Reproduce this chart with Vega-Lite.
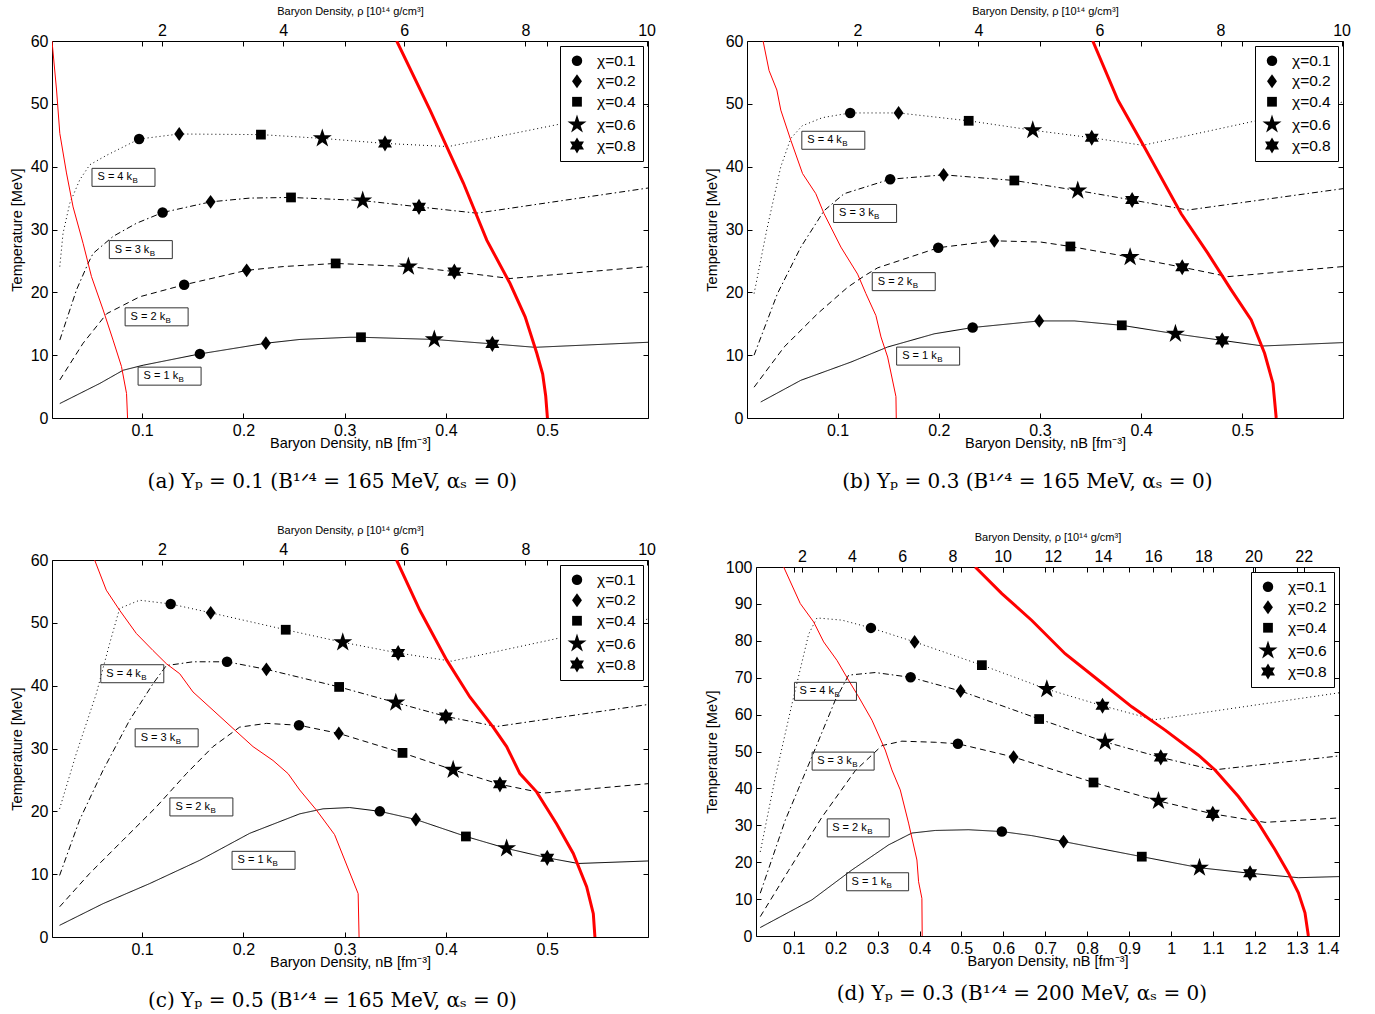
{
  "$schema": "https://vega.github.io/schema/vega-lite/v6.json",
  "padding": {"left": 8, "top": 4, "right": 0, "bottom": 0},
  "background": "white",
  "datasets": {
    "curves": [
      {"p":"a","s":"S1","n":0.0187,"T":2.3},{"p":"a","s":"S1","n":0.0582,"T":5.5},{"p":"a","s":"S1","n":0.0812,"T":7.6},{"p":"a","s":"S1","n":0.101,"T":8.4},{"p":"a","s":"S1","n":0.157,"T":10.2},{"p":"a","s":"S1","n":0.2222,"T":11.9},{"p":"a","s":"S1","n":0.2558,"T":12.5},{"p":"a","s":"S1","n":0.3052,"T":12.85},{"p":"a","s":"S1","n":0.3161,"T":12.85},{"p":"a","s":"S1","n":0.3885,"T":12.5},{"p":"a","s":"S1","n":0.4458,"T":11.8},{"p":"a","s":"S1","n":0.488,"T":11.25},{"p":"a","s":"S1","n":0.5995,"T":12.05},
      {"p":"a","s":"S2","n":0.0187,"T":6.05},{"p":"a","s":"S2","n":0.0417,"T":11.9},{"p":"a","s":"S2","n":0.065,"T":16.6},{"p":"a","s":"S2","n":0.0977,"T":19.3},{"p":"a","s":"S2","n":0.1415,"T":21.2},{"p":"a","s":"S2","n":0.2032,"T":23.5},{"p":"a","s":"S2","n":0.2393,"T":24.1},{"p":"a","s":"S2","n":0.2911,"T":24.6},{"p":"a","s":"S2","n":0.3629,"T":24.1},{"p":"a","s":"S2","n":0.4083,"T":23.3},{"p":"a","s":"S2","n":0.4633,"T":22.2},{"p":"a","s":"S2","n":0.5995,"T":24.1},
      {"p":"a","s":"S3","n":0.0187,"T":12.4},{"p":"a","s":"S3","n":0.0352,"T":20.4},{"p":"a","s":"S3","n":0.0466,"T":24.6},{"p":"a","s":"S3","n":0.0516,"T":26.2},{"p":"a","s":"S3","n":0.0713,"T":28.9},{"p":"a","s":"S3","n":0.0945,"T":31},{"p":"a","s":"S3","n":0.1202,"T":32.7},{"p":"a","s":"S3","n":0.1676,"T":34.4},{"p":"a","s":"S3","n":0.2064,"T":35},{"p":"a","s":"S3","n":0.247,"T":35.1},{"p":"a","s":"S3","n":0.305,"T":34.7},{"p":"a","s":"S3","n":0.3178,"T":34.6},{"p":"a","s":"S3","n":0.3734,"T":33.6},{"p":"a","s":"S3","n":0.4304,"T":32.6},{"p":"a","s":"S3","n":0.5995,"T":36.6},
      {"p":"a","s":"S4","n":0.0187,"T":24.1},{"p":"a","s":"S4","n":0.0219,"T":29.4},{"p":"a","s":"S4","n":0.0286,"T":34.2},{"p":"a","s":"S4","n":0.0384,"T":37.9},{"p":"a","s":"S4","n":0.0483,"T":40.3},{"p":"a","s":"S4","n":0.0648,"T":41.8},{"p":"a","s":"S4","n":0.097,"T":44.4},{"p":"a","s":"S4","n":0.1366,"T":45.2},{"p":"a","s":"S4","n":0.2173,"T":45.1},{"p":"a","s":"S4","n":0.2779,"T":44.5},{"p":"a","s":"S4","n":0.3398,"T":43.7},{"p":"a","s":"S4","n":0.4024,"T":43.2},{"p":"a","s":"S4","n":0.5995,"T":49.6},
      {"p":"a","s":"thin","n":0.011,"T":60},{"p":"a","s":"thin","n":0.0155,"T":52.2},{"p":"a","s":"thin","n":0.0187,"T":45.3},{"p":"a","s":"thin","n":0.0253,"T":39},{"p":"a","s":"thin","n":0.0318,"T":33.6},{"p":"a","s":"thin","n":0.0417,"T":27.8},{"p":"a","s":"thin","n":0.05,"T":22.5},{"p":"a","s":"thin","n":0.0615,"T":17.2},{"p":"a","s":"thin","n":0.0713,"T":12.4},{"p":"a","s":"thin","n":0.0796,"T":8.2},{"p":"a","s":"thin","n":0.0846,"T":3.9},{"p":"a","s":"thin","n":0.0856,"T":0},
      {"p":"a","s":"thick","n":0.3514,"T":60},{"p":"a","s":"thick","n":0.3843,"T":49},{"p":"a","s":"thick","n":0.4172,"T":37.4},{"p":"a","s":"thick","n":0.4403,"T":28.3},{"p":"a","s":"thick","n":0.4633,"T":21.4},{"p":"a","s":"thick","n":0.4782,"T":16.1},{"p":"a","s":"thick","n":0.4897,"T":10.3},{"p":"a","s":"thick","n":0.4955,"T":7},{"p":"a","s":"thick","n":0.4985,"T":3.5},{"p":"a","s":"thick","n":0.5002,"T":0},

      {"p":"b","s":"S1","n":0.0241,"T":2.55},{"p":"b","s":"S1","n":0.0637,"T":6},{"p":"b","s":"S1","n":0.1132,"T":8.9},{"p":"b","s":"S1","n":0.1495,"T":11.3},{"p":"b","s":"S1","n":0.1956,"T":13.4},{"p":"b","s":"S1","n":0.2335,"T":14.4},{"p":"b","s":"S1","n":0.2993,"T":15.45},{"p":"b","s":"S1","n":0.334,"T":15.45},{"p":"b","s":"S1","n":0.3809,"T":14.75},{"p":"b","s":"S1","n":0.4339,"T":13.4},{"p":"b","s":"S1","n":0.4801,"T":12.35},{"p":"b","s":"S1","n":0.5204,"T":11.46},{"p":"b","s":"S1","n":0.5995,"T":12},
      {"p":"b","s":"S2","n":0.0175,"T":4.9},{"p":"b","s":"S2","n":0.0472,"T":11.3},{"p":"b","s":"S2","n":0.0802,"T":16.6},{"p":"b","s":"S2","n":0.1099,"T":20.8},{"p":"b","s":"S2","n":0.1263,"T":22.6},{"p":"b","s":"S2","n":0.1396,"T":23.9},{"p":"b","s":"S2","n":0.1995,"T":27.1},{"p":"b","s":"S2","n":0.2549,"T":28.2},{"p":"b","s":"S2","n":0.301,"T":28},{"p":"b","s":"S2","n":0.3301,"T":27.3},{"p":"b","s":"S2","n":0.3891,"T":25.6},{"p":"b","s":"S2","n":0.4406,"T":24},{"p":"b","s":"S2","n":0.4858,"T":22.5},{"p":"b","s":"S2","n":0.5995,"T":24.1},
      {"p":"b","s":"S3","n":0.0175,"T":10},{"p":"b","s":"S3","n":0.0406,"T":19.8},{"p":"b","s":"S3","n":0.0637,"T":27.2},{"p":"b","s":"S3","n":0.0867,"T":33},{"p":"b","s":"S3","n":0.1065,"T":35.7},{"p":"b","s":"S3","n":0.152,"T":38},{"p":"b","s":"S3","n":0.2048,"T":38.7},{"p":"b","s":"S3","n":0.2747,"T":37.8},{"p":"b","s":"S3","n":0.3374,"T":36.2},{"p":"b","s":"S3","n":0.3911,"T":34.7},{"p":"b","s":"S3","n":0.4462,"T":33.1},{"p":"b","s":"S3","n":0.5995,"T":36.5},
      {"p":"b","s":"S4","n":0.0175,"T":19.8},{"p":"b","s":"S4","n":0.0301,"T":30},{"p":"b","s":"S4","n":0.0439,"T":40},{"p":"b","s":"S4","n":0.0538,"T":44.5},{"p":"b","s":"S4","n":0.065,"T":46.5},{"p":"b","s":"S4","n":0.085,"T":47.8},{"p":"b","s":"S4","n":0.1125,"T":48.55},{"p":"b","s":"S4","n":0.1603,"T":48.55},{"p":"b","s":"S4","n":0.2296,"T":47.3},{"p":"b","s":"S4","n":0.2929,"T":45.8},{"p":"b","s":"S4","n":0.3512,"T":44.6},{"p":"b","s":"S4","n":0.4017,"T":43.4},{"p":"b","s":"S4","n":0.5995,"T":50.3},
      {"p":"b","s":"thin","n":0.0264,"T":60},{"p":"b","s":"thin","n":0.0323,"T":55.3},{"p":"b","s":"thin","n":0.04,"T":52.2},{"p":"b","s":"thin","n":0.0439,"T":49},{"p":"b","s":"thin","n":0.0538,"T":44.2},{"p":"b","s":"thin","n":0.0654,"T":38.9},{"p":"b","s":"thin","n":0.0785,"T":35.7},{"p":"b","s":"thin","n":0.0867,"T":32.5},{"p":"b","s":"thin","n":0.1033,"T":27.2},{"p":"b","s":"thin","n":0.1198,"T":22.9},{"p":"b","s":"thin","n":0.128,"T":19.8},{"p":"b","s":"thin","n":0.1379,"T":16.3},{"p":"b","s":"thin","n":0.1429,"T":12.9},{"p":"b","s":"thin","n":0.1495,"T":9.7},{"p":"b","s":"thin","n":0.1577,"T":3.4},{"p":"b","s":"thin","n":0.158,"T":0},
      {"p":"b","s":"thick","n":0.3522,"T":60},{"p":"b","s":"thick","n":0.377,"T":50.6},{"p":"b","s":"thick","n":0.4033,"T":43.1},{"p":"b","s":"thick","n":0.4396,"T":32.5},{"p":"b","s":"thick","n":0.466,"T":26.2},{"p":"b","s":"thick","n":0.489,"T":20.4},{"p":"b","s":"thick","n":0.5088,"T":15.6},{"p":"b","s":"thick","n":0.522,"T":10.3},{"p":"b","s":"thick","n":0.5303,"T":5.5},{"p":"b","s":"thick","n":0.5335,"T":0},

      {"p":"c","s":"S1","n":0.0185,"T":1.86},{"p":"c","s":"S1","n":0.0613,"T":5.3},{"p":"c","s":"S1","n":0.1074,"T":8.5},{"p":"c","s":"S1","n":0.1568,"T":12.2},{"p":"c","s":"S1","n":0.2062,"T":16.5},{"p":"c","s":"S1","n":0.2556,"T":19.6},{"p":"c","s":"S1","n":0.2787,"T":20.4},{"p":"c","s":"S1","n":0.305,"T":20.6},{"p":"c","s":"S1","n":0.3347,"T":20},{"p":"c","s":"S1","n":0.3703,"T":18.7},{"p":"c","s":"S1","n":0.4197,"T":16},{"p":"c","s":"S1","n":0.4599,"T":14.1},{"p":"c","s":"S1","n":0.5,"T":12.6},{"p":"c","s":"S1","n":0.5306,"T":11.7},{"p":"c","s":"S1","n":0.5995,"T":12.1},
      {"p":"c","s":"S2","n":0.0185,"T":4.8},{"p":"c","s":"S2","n":0.0481,"T":10.1},{"p":"c","s":"S2","n":0.081,"T":15.4},{"p":"c","s":"S2","n":0.114,"T":20.7},{"p":"c","s":"S2","n":0.1437,"T":26},{"p":"c","s":"S2","n":0.17,"T":30.3},{"p":"c","s":"S2","n":0.1963,"T":33.4},{"p":"c","s":"S2","n":0.2227,"T":34},{"p":"c","s":"S2","n":0.2549,"T":33.7},{"p":"c","s":"S2","n":0.2942,"T":32.4},{"p":"c","s":"S2","n":0.3571,"T":29.3},{"p":"c","s":"S2","n":0.4071,"T":26.6},{"p":"c","s":"S2","n":0.4533,"T":24.3},{"p":"c","s":"S2","n":0.496,"T":22.9},{"p":"c","s":"S2","n":0.5995,"T":24.4},
      {"p":"c","s":"S3","n":0.0185,"T":9.8},{"p":"c","s":"S3","n":0.0382,"T":18.6},{"p":"c","s":"S3","n":0.0613,"T":26.5},{"p":"c","s":"S3","n":0.0876,"T":34.5},{"p":"c","s":"S3","n":0.1107,"T":40.3},{"p":"c","s":"S3","n":0.1239,"T":43.2},{"p":"c","s":"S3","n":0.1502,"T":43.8},{"p":"c","s":"S3","n":0.1838,"T":43.8},{"p":"c","s":"S3","n":0.2227,"T":42.6},{"p":"c","s":"S3","n":0.2945,"T":39.8},{"p":"c","s":"S3","n":0.3505,"T":37.3},{"p":"c","s":"S3","n":0.3999,"T":35.1},{"p":"c","s":"S3","n":0.45,"T":33.5},{"p":"c","s":"S3","n":0.5995,"T":37},
      {"p":"c","s":"S4","n":0.0185,"T":20.4},{"p":"c","s":"S4","n":0.035,"T":29.2},{"p":"c","s":"S4","n":0.0547,"T":38.7},{"p":"c","s":"S4","n":0.0679,"T":46.7},{"p":"c","s":"S4","n":0.0778,"T":52.3},{"p":"c","s":"S4","n":0.0975,"T":53.6},{"p":"c","s":"S4","n":0.1282,"T":53},{"p":"c","s":"S4","n":0.1677,"T":51.6},{"p":"c","s":"S4","n":0.2418,"T":48.9},{"p":"c","s":"S4","n":0.2981,"T":46.9},{"p":"c","s":"S4","n":0.3528,"T":45.2},{"p":"c","s":"S4","n":0.4055,"T":43.9},{"p":"c","s":"S4","n":0.5995,"T":50.6},
      {"p":"c","s":"thin","n":0.0531,"T":60},{"p":"c","s":"thin","n":0.0646,"T":55.2},{"p":"c","s":"thin","n":0.0778,"T":52},{"p":"c","s":"thin","n":0.0943,"T":48.3},{"p":"c","s":"thin","n":0.1107,"T":45.6},{"p":"c","s":"thin","n":0.1239,"T":43.5},{"p":"c","s":"thin","n":0.1371,"T":41.9},{"p":"c","s":"thin","n":0.1502,"T":39},{"p":"c","s":"thin","n":0.17,"T":36.1},{"p":"c","s":"thin","n":0.1897,"T":33.2},{"p":"c","s":"thin","n":0.2095,"T":30.3},{"p":"c","s":"thin","n":0.2292,"T":28.1},{"p":"c","s":"thin","n":0.2441,"T":26},{"p":"c","s":"thin","n":0.2556,"T":23.4},{"p":"c","s":"thin","n":0.2721,"T":20.2},{"p":"c","s":"thin","n":0.29,"T":16.3},{"p":"c","s":"thin","n":0.3133,"T":6.9},{"p":"c","s":"thin","n":0.3142,"T":0},
      {"p":"c","s":"thick","n":0.3512,"T":60},{"p":"c","s":"thick","n":0.3742,"T":52},{"p":"c","s":"thick","n":0.4006,"T":44.1},{"p":"c","s":"thick","n":0.4236,"T":38.2},{"p":"c","s":"thick","n":0.4466,"T":33.4},{"p":"c","s":"thick","n":0.4599,"T":30.3},{"p":"c","s":"thick","n":0.473,"T":26},{"p":"c","s":"thick","n":0.4895,"T":23.1},{"p":"c","s":"thick","n":0.5093,"T":18},{"p":"c","s":"thick","n":0.5257,"T":13.3},{"p":"c","s":"thick","n":0.5389,"T":8},{"p":"c","s":"thick","n":0.5455,"T":3.7},{"p":"c","s":"thick","n":0.5471,"T":0},

      {"p":"d","s":"S1","n":0.0204,"T":2.3},{"p":"d","s":"S1","n":0.1436,"T":9.8},{"p":"d","s":"S1","n":0.2389,"T":17.9},{"p":"d","s":"S1","n":0.3264,"T":24.7},{"p":"d","s":"S1","n":0.3819,"T":27.9},{"p":"d","s":"S1","n":0.4374,"T":28.6},{"p":"d","s":"S1","n":0.517,"T":28.8},{"p":"d","s":"S1","n":0.5963,"T":28.3},{"p":"d","s":"S1","n":0.6678,"T":27.2},{"p":"d","s":"S1","n":0.7433,"T":25.6},{"p":"d","s":"S1","n":0.9299,"T":21.5},{"p":"d","s":"S1","n":1.0674,"T":18.5},{"p":"d","s":"S1","n":1.188,"T":17},{"p":"d","s":"S1","n":1.3032,"T":15.8},{"p":"d","s":"S1","n":1.4,"T":16.1},
      {"p":"d","s":"S2","n":0.0204,"T":5.25},{"p":"d","s":"S2","n":0.0881,"T":17.8},{"p":"d","s":"S2","n":0.1674,"T":32.2},{"p":"d","s":"S2","n":0.2468,"T":44.8},{"p":"d","s":"S2","n":0.3104,"T":51.6},{"p":"d","s":"S2","n":0.358,"T":52.8},{"p":"d","s":"S2","n":0.4374,"T":52.5},{"p":"d","s":"S2","n":0.4915,"T":52.1},{"p":"d","s":"S2","n":0.6242,"T":48.5},{"p":"d","s":"S2","n":0.8148,"T":41.6},{"p":"d","s":"S2","n":0.9697,"T":36.6},{"p":"d","s":"S2","n":1.0991,"T":33.1},{"p":"d","s":"S2","n":1.2237,"T":30.8},{"p":"d","s":"S2","n":1.4,"T":32},
      {"p":"d","s":"S3","n":0.0204,"T":11.6},{"p":"d","s":"S3","n":0.08,"T":31.4},{"p":"d","s":"S3","n":0.1436,"T":48.6},{"p":"d","s":"S3","n":0.1991,"T":63.9},{"p":"d","s":"S3","n":0.231,"T":70.7},{"p":"d","s":"S3","n":0.2944,"T":71.4},{"p":"d","s":"S3","n":0.3788,"T":70.1},{"p":"d","s":"S3","n":0.4979,"T":66.4},{"p":"d","s":"S3","n":0.6852,"T":58.8},{"p":"d","s":"S3","n":0.8424,"T":52.6},{"p":"d","s":"S3","n":0.9751,"T":48.4},{"p":"d","s":"S3","n":1.1007,"T":45},{"p":"d","s":"S3","n":1.4,"T":48.8},
      {"p":"d","s":"S4","n":0.0204,"T":22.8},{"p":"d","s":"S4","n":0.0562,"T":43},{"p":"d","s":"S4","n":0.096,"T":62.9},{"p":"d","s":"S4","n":0.1357,"T":81.8},{"p":"d","s":"S4","n":0.1555,"T":86.2},{"p":"d","s":"S4","n":0.2151,"T":85.6},{"p":"d","s":"S4","n":0.2842,"T":83.5},{"p":"d","s":"S4","n":0.3883,"T":79.7},{"p":"d","s":"S4","n":0.5487,"T":73.4},{"p":"d","s":"S4","n":0.7035,"T":66.9},{"p":"d","s":"S4","n":0.8362,"T":62.4},{"p":"d","s":"S4","n":0.96,"T":58.6},{"p":"d","s":"S4","n":1.4,"T":65.9},
      {"p":"d","s":"thin","n":0.0762,"T":100},{"p":"d","s":"thin","n":0.1157,"T":90.1},{"p":"d","s":"thin","n":0.1477,"T":85.1},{"p":"d","s":"thin","n":0.1715,"T":79.7},{"p":"d","s":"thin","n":0.2032,"T":74.7},{"p":"d","s":"thin","n":0.231,"T":69.3},{"p":"d","s":"thin","n":0.2549,"T":64.8},{"p":"d","s":"thin","n":0.2866,"T":58.5},{"p":"d","s":"thin","n":0.3183,"T":50.4},{"p":"d","s":"thin","n":0.3342,"T":45},{"p":"d","s":"thin","n":0.3541,"T":39.6},{"p":"d","s":"thin","n":0.3739,"T":30.6},{"p":"d","s":"thin","n":0.3938,"T":20.6},{"p":"d","s":"thin","n":0.3978,"T":14.7},{"p":"d","s":"thin","n":0.4057,"T":10.2},{"p":"d","s":"thin","n":0.4064,"T":0},
      {"p":"d","s":"thick","n":0.5327,"T":100},{"p":"d","s":"thick","n":0.5963,"T":92.8},{"p":"d","s":"thick","n":0.6678,"T":85.5},{"p":"d","s":"thick","n":0.7471,"T":76.5},{"p":"d","s":"thick","n":0.8267,"T":69.3},{"p":"d","s":"thick","n":0.9061,"T":62.1},{"p":"d","s":"thick","n":0.9855,"T":55.8},{"p":"d","s":"thick","n":1.065,"T":49},{"p":"d","s":"thick","n":1.1045,"T":45},{"p":"d","s":"thick","n":1.1602,"T":37.8},{"p":"d","s":"thick","n":1.2079,"T":30.6},{"p":"d","s":"thick","n":1.2475,"T":23.4},{"p":"d","s":"thick","n":1.2794,"T":17.1},{"p":"d","s":"thick","n":1.3032,"T":11.7},{"p":"d","s":"thick","n":1.3189,"T":6.3},{"p":"d","s":"thick","n":1.327,"T":0}
    ],
    "markers": [
      {"p":"a","chi":"χ=0.1","n":0.097,"T":44.4},{"p":"a","chi":"χ=0.2","n":0.1366,"T":45.2},{"p":"a","chi":"χ=0.4","n":0.2173,"T":45.1},{"p":"a","chi":"χ=0.6","n":0.2779,"T":44.5},{"p":"a","chi":"χ=0.8","n":0.3398,"T":43.7},
      {"p":"a","chi":"χ=0.1","n":0.1202,"T":32.7},{"p":"a","chi":"χ=0.2","n":0.1676,"T":34.4},{"p":"a","chi":"χ=0.4","n":0.247,"T":35.1},{"p":"a","chi":"χ=0.6","n":0.3178,"T":34.6},{"p":"a","chi":"χ=0.8","n":0.3734,"T":33.6},
      {"p":"a","chi":"χ=0.1","n":0.1415,"T":21.2},{"p":"a","chi":"χ=0.2","n":0.2032,"T":23.5},{"p":"a","chi":"χ=0.4","n":0.2911,"T":24.6},{"p":"a","chi":"χ=0.6","n":0.3629,"T":24.1},{"p":"a","chi":"χ=0.8","n":0.4083,"T":23.3},
      {"p":"a","chi":"χ=0.1","n":0.157,"T":10.2},{"p":"a","chi":"χ=0.2","n":0.2222,"T":11.9},{"p":"a","chi":"χ=0.4","n":0.3161,"T":12.85},{"p":"a","chi":"χ=0.6","n":0.3885,"T":12.5},{"p":"a","chi":"χ=0.8","n":0.4458,"T":11.8},
      {"p":"b","chi":"χ=0.1","n":0.1125,"T":48.55},{"p":"b","chi":"χ=0.2","n":0.1603,"T":48.55},{"p":"b","chi":"χ=0.4","n":0.2296,"T":47.3},{"p":"b","chi":"χ=0.6","n":0.2929,"T":45.8},{"p":"b","chi":"χ=0.8","n":0.3512,"T":44.6},
      {"p":"b","chi":"χ=0.1","n":0.152,"T":38},{"p":"b","chi":"χ=0.2","n":0.2048,"T":38.7},{"p":"b","chi":"χ=0.4","n":0.2747,"T":37.8},{"p":"b","chi":"χ=0.6","n":0.3374,"T":36.2},{"p":"b","chi":"χ=0.8","n":0.3911,"T":34.7},
      {"p":"b","chi":"χ=0.1","n":0.1995,"T":27.1},{"p":"b","chi":"χ=0.2","n":0.2549,"T":28.2},{"p":"b","chi":"χ=0.4","n":0.3301,"T":27.3},{"p":"b","chi":"χ=0.6","n":0.3891,"T":25.6},{"p":"b","chi":"χ=0.8","n":0.4406,"T":24},
      {"p":"b","chi":"χ=0.1","n":0.2335,"T":14.4},{"p":"b","chi":"χ=0.2","n":0.2993,"T":15.45},{"p":"b","chi":"χ=0.4","n":0.3809,"T":14.75},{"p":"b","chi":"χ=0.6","n":0.4339,"T":13.4},{"p":"b","chi":"χ=0.8","n":0.4801,"T":12.35},
      {"p":"c","chi":"χ=0.1","n":0.1282,"T":53},{"p":"c","chi":"χ=0.2","n":0.1677,"T":51.6},{"p":"c","chi":"χ=0.4","n":0.2418,"T":48.9},{"p":"c","chi":"χ=0.6","n":0.2981,"T":46.9},{"p":"c","chi":"χ=0.8","n":0.3528,"T":45.2},
      {"p":"c","chi":"χ=0.1","n":0.1838,"T":43.8},{"p":"c","chi":"χ=0.2","n":0.2227,"T":42.6},{"p":"c","chi":"χ=0.4","n":0.2945,"T":39.8},{"p":"c","chi":"χ=0.6","n":0.3505,"T":37.3},{"p":"c","chi":"χ=0.8","n":0.3999,"T":35.1},
      {"p":"c","chi":"χ=0.1","n":0.2549,"T":33.7},{"p":"c","chi":"χ=0.2","n":0.2942,"T":32.4},{"p":"c","chi":"χ=0.4","n":0.3571,"T":29.3},{"p":"c","chi":"χ=0.6","n":0.4071,"T":26.6},{"p":"c","chi":"χ=0.8","n":0.4533,"T":24.3},
      {"p":"c","chi":"χ=0.1","n":0.3347,"T":20},{"p":"c","chi":"χ=0.2","n":0.3703,"T":18.7},{"p":"c","chi":"χ=0.4","n":0.4197,"T":16},{"p":"c","chi":"χ=0.6","n":0.4599,"T":14.1},{"p":"c","chi":"χ=0.8","n":0.5,"T":12.6},
      {"p":"d","chi":"χ=0.1","n":0.2842,"T":83.5},{"p":"d","chi":"χ=0.2","n":0.3883,"T":79.7},{"p":"d","chi":"χ=0.4","n":0.5487,"T":73.4},{"p":"d","chi":"χ=0.6","n":0.7035,"T":66.9},{"p":"d","chi":"χ=0.8","n":0.8362,"T":62.4},
      {"p":"d","chi":"χ=0.1","n":0.3788,"T":70.1},{"p":"d","chi":"χ=0.2","n":0.4979,"T":66.4},{"p":"d","chi":"χ=0.4","n":0.6852,"T":58.8},{"p":"d","chi":"χ=0.6","n":0.8424,"T":52.6},{"p":"d","chi":"χ=0.8","n":0.9751,"T":48.4},
      {"p":"d","chi":"χ=0.1","n":0.4915,"T":52.1},{"p":"d","chi":"χ=0.2","n":0.6242,"T":48.5},{"p":"d","chi":"χ=0.4","n":0.8148,"T":41.6},{"p":"d","chi":"χ=0.6","n":0.9697,"T":36.6},{"p":"d","chi":"χ=0.8","n":1.0991,"T":33.1},
      {"p":"d","chi":"χ=0.1","n":0.5963,"T":28.3},{"p":"d","chi":"χ=0.2","n":0.7433,"T":25.6},{"p":"d","chi":"χ=0.4","n":0.9299,"T":21.5},{"p":"d","chi":"χ=0.6","n":1.0674,"T":18.5},{"p":"d","chi":"χ=0.8","n":1.188,"T":17}
    ],
    "labels": [
      {"p":"a","k":"S = 4 k","n":0.0816,"T":38.3},{"p":"a","k":"S = 3 k","n":0.0987,"T":26.8},{"p":"a","k":"S = 2 k","n":0.1143,"T":16.1},{"p":"a","k":"S = 1 k","n":0.1271,"T":6.66},
      {"p":"b","k":"S = 4 k","n":0.0958,"T":44.2},{"p":"b","k":"S = 3 k","n":0.1272,"T":32.55},{"p":"b","k":"S = 2 k","n":0.1654,"T":21.7},{"p":"b","k":"S = 1 k","n":0.1895,"T":9.85},
      {"p":"c","k":"S = 4 k","n":0.0903,"T":41.9},{"p":"c","k":"S = 3 k","n":0.1242,"T":31.7},{"p":"c","k":"S = 2 k","n":0.1585,"T":20.7},{"p":"c","k":"S = 1 k","n":0.2199,"T":12.2},
      {"p":"d","k":"S = 4 k","n":0.1758,"T":66.3},{"p":"d","k":"S = 3 k","n":0.2179,"T":47.4},{"p":"d","k":"S = 2 k","n":0.2539,"T":29.3},{"p":"d","k":"S = 1 k","n":0.3001,"T":14.7}
    ]
  },
  "resolve": {"scale": {"shape": "independent", "size": "independent", "strokeDash": "independent"}, "legend": {"shape": "independent", "size": "independent"}},
  "spacing": 31,
  "vconcat": [
    {
      "spacing": 47,
      "resolve": {"scale": {"shape": "independent", "size": "independent", "strokeDash": "independent"}, "legend": {"shape": "independent", "size": "independent"}},
      "hconcat": [
        {
          "width": 596, "height": 377,
          "title": {"text": "(a) Yₚ = 0.1 (B¹ᐟ⁴ = 165 MeV, αₛ = 0)"},
          "resolve": {"axis": {"x": "independent", "y": "independent"}},
          "layer": [
            {
              "data": {"name": "curves"},
              "transform": [{"filter": "datum.p == 'a' && indexof(['S1','S2','S3','S4'], datum.s) >= 0"}],
              "mark": {"type": "line", "color": "black", "strokeWidth": 1, "clip": true},
              "encoding": {
                "x": {"field": "n", "type": "quantitative", "scale": {"domain": [0.011, 0.5995], "nice": false, "zero": false},
                      "axis": {"orient": "bottom", "values": [0.1, 0.2, 0.3, 0.4, 0.5], "format": "~g", "title": "Baryon Density, nB [fm⁻³]"}},
                "y": {"field": "T", "type": "quantitative", "scale": {"domain": [0, 60], "nice": false, "zero": false},
                      "axis": {"orient": "left", "values": [0, 10, 20, 30, 40, 50, 60], "format": "d", "title": "Temperature [MeV]"}},
                "detail": {"field": "s"},
                "strokeDash": {"field": "s", "type": "nominal", "legend": null,
                               "scale": {"domain": ["S1", "S2", "S3", "S4"], "range": [[1, 0], [6, 4], [6, 3, 1.5, 3], [1, 3]]}}
              }
            },
            {
              "data": {"name": "curves"},
              "transform": [{"filter": "datum.p == 'a' && datum.s == 'thin'"}],
              "mark": {"type": "line", "color": "#ff0000", "strokeWidth": 1, "clip": true},
              "encoding": {
                "x": {"field": "n", "type": "quantitative",
                      "axis": {"orient": "top", "values": [0.1, 0.119617, 0.2, 0.239234, 0.3, 0.358852, 0.4, 0.478469, 0.5, 0.598086],
                               "labelExpr": "abs(datum.value*16.72 - round(datum.value*16.72)) < 0.001 ? format(round(datum.value*16.72), 'd') : ''",
                               "title": "Baryon Density, ρ [10¹⁴ g/cm³]"}},
                "y": {"field": "T", "type": "quantitative",
                      "axis": {"orient": "right", "values": [0, 10, 20, 30, 40, 50, 60], "labels": false, "title": null}}
              }
            },
            {
              "data": {"name": "curves"},
              "transform": [{"filter": "datum.p == 'a' && datum.s == 'thick'"}],
              "mark": {"type": "line", "color": "#ff0000", "strokeWidth": 3, "clip": true},
              "encoding": {
                "x": {"field": "n", "type": "quantitative", "axis": null},
                "y": {"field": "T", "type": "quantitative", "axis": null}
              }
            },
            {
              "data": {"name": "markers"},
              "transform": [{"filter": "datum.p == 'a'"}],
              "mark": {"type": "point", "filled": true, "color": "black", "opacity": 1, "strokeWidth": 0},
              "encoding": {
                "x": {"field": "n", "type": "quantitative", "axis": null},
                "y": {"field": "T", "type": "quantitative", "axis": null},
                "shape": {"field": "chi", "type": "nominal", "legend": {"title": null},
                          "scale": {"domain": ["χ=0.1", "χ=0.2", "χ=0.4", "χ=0.6", "χ=0.8"],
                                    "range": ["circle", "M0,-1L0.72,0L0,1L-0.72,0Z", "square",
                                              "M0,-1L0.225,-0.309L0.951,-0.309L0.363,0.118L0.588,0.809L0,0.382L-0.588,0.809L-0.363,0.118L-0.951,-0.309L-0.225,-0.309Z",
                                              "M0,-1L0.289,-0.5L0.866,-0.5L0.577,0L0.866,0.5L0.289,0.5L0,1L-0.289,0.5L-0.866,0.5L-0.577,0L-0.866,-0.5L-0.289,-0.5Z"]}},
                "size": {"field": "chi", "type": "nominal", "legend": {"title": null},
                         "scale": {"type": "ordinal", "domain": ["χ=0.1", "χ=0.2", "χ=0.4", "χ=0.6", "χ=0.8"], "range": [110, 190, 95, 400, 260]}}
              }
            },
            {
              "data": {"name": "labels"},
              "transform": [{"filter": "datum.p == 'a'"}],
              "mark": {"type": "rect", "width": 63, "height": 18, "fill": "white", "fillOpacity": 0, "stroke": "#333", "strokeWidth": 1},
              "encoding": {
                "x": {"field": "n", "type": "quantitative", "axis": null},
                "y": {"field": "T", "type": "quantitative", "axis": null}
              }
            },
            {
              "data": {"name": "labels"},
              "transform": [{"filter": "datum.p == 'a'"}],
              "mark": {"type": "text", "align": "left", "baseline": "middle", "dx": -26, "fontSize": 11, "color": "black"},
              "encoding": {
                "x": {"field": "n", "type": "quantitative", "axis": null},
                "y": {"field": "T", "type": "quantitative", "axis": null},
                "text": {"field": "k"}
              }
            },
            {
              "data": {"name": "labels"},
              "transform": [{"filter": "datum.p == 'a'"}],
              "mark": {"type": "text", "align": "left", "baseline": "middle", "dx": 9, "dy": 4, "fontSize": 8, "color": "black", "text": "B"},
              "encoding": {
                "x": {"field": "n", "type": "quantitative", "axis": null},
                "y": {"field": "T", "type": "quantitative", "axis": null}
              }
            }
          ]
        },
        {
          "width": 596, "height": 377,
          "title": {"text": "(b) Yₚ = 0.3 (B¹ᐟ⁴ = 165 MeV, αₛ = 0)"},
          "resolve": {"axis": {"x": "independent", "y": "independent"}},
          "layer": [
            {
              "data": {"name": "curves"},
              "transform": [{"filter": "datum.p == 'b' && indexof(['S1','S2','S3','S4'], datum.s) >= 0"}],
              "mark": {"type": "line", "color": "black", "strokeWidth": 1, "clip": true},
              "encoding": {
                "x": {"field": "n", "type": "quantitative", "scale": {"domain": [0.0105, 0.5995], "nice": false, "zero": false},
                      "axis": {"orient": "bottom", "values": [0.1, 0.2, 0.3, 0.4, 0.5], "format": "~g", "title": "Baryon Density, nB [fm⁻³]"}},
                "y": {"field": "T", "type": "quantitative", "scale": {"domain": [0, 60], "nice": false, "zero": false},
                      "axis": {"orient": "left", "values": [0, 10, 20, 30, 40, 50, 60], "format": "d", "title": "Temperature [MeV]"}},
                "detail": {"field": "s"},
                "strokeDash": {"field": "s", "type": "nominal", "legend": null,
                               "scale": {"domain": ["S1", "S2", "S3", "S4"], "range": [[1, 0], [6, 4], [6, 3, 1.5, 3], [1, 3]]}}
              }
            },
            {
              "data": {"name": "curves"},
              "transform": [{"filter": "datum.p == 'b' && datum.s == 'thin'"}],
              "mark": {"type": "line", "color": "#ff0000", "strokeWidth": 1, "clip": true},
              "encoding": {
                "x": {"field": "n", "type": "quantitative",
                      "axis": {"orient": "top", "values": [0.1, 0.119617, 0.2, 0.239234, 0.3, 0.358852, 0.4, 0.478469, 0.5, 0.598086],
                               "labelExpr": "abs(datum.value*16.72 - round(datum.value*16.72)) < 0.001 ? format(round(datum.value*16.72), 'd') : ''",
                               "title": "Baryon Density, ρ [10¹⁴ g/cm³]"}},
                "y": {"field": "T", "type": "quantitative",
                      "axis": {"orient": "right", "values": [0, 10, 20, 30, 40, 50, 60], "labels": false, "title": null}}
              }
            },
            {
              "data": {"name": "curves"},
              "transform": [{"filter": "datum.p == 'b' && datum.s == 'thick'"}],
              "mark": {"type": "line", "color": "#ff0000", "strokeWidth": 3, "clip": true},
              "encoding": {
                "x": {"field": "n", "type": "quantitative", "axis": null},
                "y": {"field": "T", "type": "quantitative", "axis": null}
              }
            },
            {
              "data": {"name": "markers"},
              "transform": [{"filter": "datum.p == 'b'"}],
              "mark": {"type": "point", "filled": true, "color": "black", "opacity": 1, "strokeWidth": 0},
              "encoding": {
                "x": {"field": "n", "type": "quantitative", "axis": null},
                "y": {"field": "T", "type": "quantitative", "axis": null},
                "shape": {"field": "chi", "type": "nominal", "legend": {"title": null},
                          "scale": {"domain": ["χ=0.1", "χ=0.2", "χ=0.4", "χ=0.6", "χ=0.8"],
                                    "range": ["circle", "M0,-1L0.72,0L0,1L-0.72,0Z", "square",
                                              "M0,-1L0.225,-0.309L0.951,-0.309L0.363,0.118L0.588,0.809L0,0.382L-0.588,0.809L-0.363,0.118L-0.951,-0.309L-0.225,-0.309Z",
                                              "M0,-1L0.289,-0.5L0.866,-0.5L0.577,0L0.866,0.5L0.289,0.5L0,1L-0.289,0.5L-0.866,0.5L-0.577,0L-0.866,-0.5L-0.289,-0.5Z"]}},
                "size": {"field": "chi", "type": "nominal", "legend": {"title": null},
                         "scale": {"type": "ordinal", "domain": ["χ=0.1", "χ=0.2", "χ=0.4", "χ=0.6", "χ=0.8"], "range": [110, 190, 95, 400, 260]}}
              }
            },
            {
              "data": {"name": "labels"},
              "transform": [{"filter": "datum.p == 'b'"}],
              "mark": {"type": "rect", "width": 63, "height": 18, "fill": "white", "fillOpacity": 0, "stroke": "#333", "strokeWidth": 1},
              "encoding": {
                "x": {"field": "n", "type": "quantitative", "axis": null},
                "y": {"field": "T", "type": "quantitative", "axis": null}
              }
            },
            {
              "data": {"name": "labels"},
              "transform": [{"filter": "datum.p == 'b'"}],
              "mark": {"type": "text", "align": "left", "baseline": "middle", "dx": -26, "fontSize": 11, "color": "black"},
              "encoding": {
                "x": {"field": "n", "type": "quantitative", "axis": null},
                "y": {"field": "T", "type": "quantitative", "axis": null},
                "text": {"field": "k"}
              }
            },
            {
              "data": {"name": "labels"},
              "transform": [{"filter": "datum.p == 'b'"}],
              "mark": {"type": "text", "align": "left", "baseline": "middle", "dx": 9, "dy": 4, "fontSize": 8, "color": "black", "text": "B"},
              "encoding": {
                "x": {"field": "n", "type": "quantitative", "axis": null},
                "y": {"field": "T", "type": "quantitative", "axis": null}
              }
            }
          ]
        }
      ]
    },
    {
      "spacing": 47,
      "center": true,
      "resolve": {"scale": {"shape": "independent", "size": "independent", "strokeDash": "independent"}, "legend": {"shape": "independent", "size": "independent"}},
      "hconcat": [
        {
          "width": 596, "height": 377,
          "title": {"text": "(c) Yₚ = 0.5 (B¹ᐟ⁴ = 165 MeV, αₛ = 0)"},
          "resolve": {"axis": {"x": "independent", "y": "independent"}},
          "layer": [
            {
              "data": {"name": "curves"},
              "transform": [{"filter": "datum.p == 'c' && indexof(['S1','S2','S3','S4'], datum.s) >= 0"}],
              "mark": {"type": "line", "color": "black", "strokeWidth": 1, "clip": true},
              "encoding": {
                "x": {"field": "n", "type": "quantitative", "scale": {"domain": [0.011, 0.5995], "nice": false, "zero": false},
                      "axis": {"orient": "bottom", "values": [0.1, 0.2, 0.3, 0.4, 0.5], "format": "~g", "title": "Baryon Density, nB [fm⁻³]"}},
                "y": {"field": "T", "type": "quantitative", "scale": {"domain": [0, 60], "nice": false, "zero": false},
                      "axis": {"orient": "left", "values": [0, 10, 20, 30, 40, 50, 60], "format": "d", "title": "Temperature [MeV]"}},
                "detail": {"field": "s"},
                "strokeDash": {"field": "s", "type": "nominal", "legend": null,
                               "scale": {"domain": ["S1", "S2", "S3", "S4"], "range": [[1, 0], [6, 4], [6, 3, 1.5, 3], [1, 3]]}}
              }
            },
            {
              "data": {"name": "curves"},
              "transform": [{"filter": "datum.p == 'c' && datum.s == 'thin'"}],
              "mark": {"type": "line", "color": "#ff0000", "strokeWidth": 1, "clip": true},
              "encoding": {
                "x": {"field": "n", "type": "quantitative",
                      "axis": {"orient": "top", "values": [0.1, 0.119617, 0.2, 0.239234, 0.3, 0.358852, 0.4, 0.478469, 0.5, 0.598086],
                               "labelExpr": "abs(datum.value*16.72 - round(datum.value*16.72)) < 0.001 ? format(round(datum.value*16.72), 'd') : ''",
                               "title": "Baryon Density, ρ [10¹⁴ g/cm³]"}},
                "y": {"field": "T", "type": "quantitative",
                      "axis": {"orient": "right", "values": [0, 10, 20, 30, 40, 50, 60], "labels": false, "title": null}}
              }
            },
            {
              "data": {"name": "curves"},
              "transform": [{"filter": "datum.p == 'c' && datum.s == 'thick'"}],
              "mark": {"type": "line", "color": "#ff0000", "strokeWidth": 3, "clip": true},
              "encoding": {
                "x": {"field": "n", "type": "quantitative", "axis": null},
                "y": {"field": "T", "type": "quantitative", "axis": null}
              }
            },
            {
              "data": {"name": "markers"},
              "transform": [{"filter": "datum.p == 'c'"}],
              "mark": {"type": "point", "filled": true, "color": "black", "opacity": 1, "strokeWidth": 0},
              "encoding": {
                "x": {"field": "n", "type": "quantitative", "axis": null},
                "y": {"field": "T", "type": "quantitative", "axis": null},
                "shape": {"field": "chi", "type": "nominal", "legend": {"title": null},
                          "scale": {"domain": ["χ=0.1", "χ=0.2", "χ=0.4", "χ=0.6", "χ=0.8"],
                                    "range": ["circle", "M0,-1L0.72,0L0,1L-0.72,0Z", "square",
                                              "M0,-1L0.225,-0.309L0.951,-0.309L0.363,0.118L0.588,0.809L0,0.382L-0.588,0.809L-0.363,0.118L-0.951,-0.309L-0.225,-0.309Z",
                                              "M0,-1L0.289,-0.5L0.866,-0.5L0.577,0L0.866,0.5L0.289,0.5L0,1L-0.289,0.5L-0.866,0.5L-0.577,0L-0.866,-0.5L-0.289,-0.5Z"]}},
                "size": {"field": "chi", "type": "nominal", "legend": {"title": null},
                         "scale": {"type": "ordinal", "domain": ["χ=0.1", "χ=0.2", "χ=0.4", "χ=0.6", "χ=0.8"], "range": [110, 190, 95, 400, 260]}}
              }
            },
            {
              "data": {"name": "labels"},
              "transform": [{"filter": "datum.p == 'c'"}],
              "mark": {"type": "rect", "width": 63, "height": 18, "fill": "white", "fillOpacity": 0, "stroke": "#333", "strokeWidth": 1},
              "encoding": {
                "x": {"field": "n", "type": "quantitative", "axis": null},
                "y": {"field": "T", "type": "quantitative", "axis": null}
              }
            },
            {
              "data": {"name": "labels"},
              "transform": [{"filter": "datum.p == 'c'"}],
              "mark": {"type": "text", "align": "left", "baseline": "middle", "dx": -26, "fontSize": 11, "color": "black"},
              "encoding": {
                "x": {"field": "n", "type": "quantitative", "axis": null},
                "y": {"field": "T", "type": "quantitative", "axis": null},
                "text": {"field": "k"}
              }
            },
            {
              "data": {"name": "labels"},
              "transform": [{"filter": "datum.p == 'c'"}],
              "mark": {"type": "text", "align": "left", "baseline": "middle", "dx": 9, "dy": 4, "fontSize": 8, "color": "black", "text": "B"},
              "encoding": {
                "x": {"field": "n", "type": "quantitative", "axis": null},
                "y": {"field": "T", "type": "quantitative", "axis": null}
              }
            }
          ]
        },
        {
          "width": 583, "height": 369,
          "title": {"text": "(d) Yₚ = 0.3 (B¹ᐟ⁴ = 200 MeV, αₛ = 0)", "offset": 16},
          "resolve": {"axis": {"x": "independent", "y": "independent"}},
          "layer": [
            {
              "data": {"name": "curves"},
              "transform": [{"filter": "datum.p == 'd' && indexof(['S1','S2','S3','S4'], datum.s) >= 0"}],
              "mark": {"type": "line", "color": "black", "strokeWidth": 1, "clip": true},
              "encoding": {
                "x": {"field": "n", "type": "quantitative", "scale": {"domain": [0.0102, 1.4], "nice": false, "zero": false},
                      "axis": {"orient": "bottom", "values": [0.1, 0.2, 0.3, 0.4, 0.5, 0.6, 0.7, 0.8, 0.9, 1, 1.1, 1.2, 1.3, 1.4], "format": "~g", "title": "Baryon Density, nB [fm⁻³]"}},
                "y": {"field": "T", "type": "quantitative", "scale": {"domain": [0, 100], "nice": false, "zero": false},
                      "axis": {"orient": "left", "values": [0, 10, 20, 30, 40, 50, 60, 70, 80, 90, 100], "format": "d", "title": "Temperature [MeV]"}},
                "detail": {"field": "s"},
                "strokeDash": {"field": "s", "type": "nominal", "legend": null,
                               "scale": {"domain": ["S1", "S2", "S3", "S4"], "range": [[1, 0], [6, 4], [6, 3, 1.5, 3], [1, 3]]}}
              }
            },
            {
              "data": {"name": "curves"},
              "transform": [{"filter": "datum.p == 'd' && datum.s == 'thin'"}],
              "mark": {"type": "line", "color": "#ff0000", "strokeWidth": 1, "clip": true},
              "encoding": {
                "x": {"field": "n", "type": "quantitative",
                      "axis": {"orient": "top", "values": [0.1, 0.119617, 0.2, 0.239234, 0.3, 0.358852, 0.4, 0.478469, 0.5, 0.598086, 0.6, 0.7, 0.717703, 0.8, 0.837321, 0.9, 0.956938, 1, 1.076555, 1.1, 1.196172, 1.2, 1.3, 1.315789, 1.4],
                               "labelExpr": "abs(datum.value*16.72 - round(datum.value*16.72)) < 0.001 ? format(round(datum.value*16.72), 'd') : ''",
                               "title": "Baryon Density, ρ [10¹⁴ g/cm³]"}},
                "y": {"field": "T", "type": "quantitative",
                      "axis": {"orient": "right", "values": [0, 10, 20, 30, 40, 50, 60, 70, 80, 90, 100], "labels": false, "title": null}}
              }
            },
            {
              "data": {"name": "curves"},
              "transform": [{"filter": "datum.p == 'd' && datum.s == 'thick'"}],
              "mark": {"type": "line", "color": "#ff0000", "strokeWidth": 3, "clip": true},
              "encoding": {
                "x": {"field": "n", "type": "quantitative", "axis": null},
                "y": {"field": "T", "type": "quantitative", "axis": null}
              }
            },
            {
              "data": {"name": "markers"},
              "transform": [{"filter": "datum.p == 'd'"}],
              "mark": {"type": "point", "filled": true, "color": "black", "opacity": 1, "strokeWidth": 0},
              "encoding": {
                "x": {"field": "n", "type": "quantitative", "axis": null},
                "y": {"field": "T", "type": "quantitative", "axis": null},
                "shape": {"field": "chi", "type": "nominal", "legend": {"title": null},
                          "scale": {"domain": ["χ=0.1", "χ=0.2", "χ=0.4", "χ=0.6", "χ=0.8"],
                                    "range": ["circle", "M0,-1L0.72,0L0,1L-0.72,0Z", "square",
                                              "M0,-1L0.225,-0.309L0.951,-0.309L0.363,0.118L0.588,0.809L0,0.382L-0.588,0.809L-0.363,0.118L-0.951,-0.309L-0.225,-0.309Z",
                                              "M0,-1L0.289,-0.5L0.866,-0.5L0.577,0L0.866,0.5L0.289,0.5L0,1L-0.289,0.5L-0.866,0.5L-0.577,0L-0.866,-0.5L-0.289,-0.5Z"]}},
                "size": {"field": "chi", "type": "nominal", "legend": {"title": null},
                         "scale": {"type": "ordinal", "domain": ["χ=0.1", "χ=0.2", "χ=0.4", "χ=0.6", "χ=0.8"], "range": [110, 190, 95, 400, 260]}}
              }
            },
            {
              "data": {"name": "labels"},
              "transform": [{"filter": "datum.p == 'd'"}],
              "mark": {"type": "rect", "width": 62, "height": 18, "fill": "white", "fillOpacity": 0, "stroke": "#333", "strokeWidth": 1},
              "encoding": {
                "x": {"field": "n", "type": "quantitative", "axis": null},
                "y": {"field": "T", "type": "quantitative", "axis": null}
              }
            },
            {
              "data": {"name": "labels"},
              "transform": [{"filter": "datum.p == 'd'"}],
              "mark": {"type": "text", "align": "left", "baseline": "middle", "dx": -26, "fontSize": 11, "color": "black"},
              "encoding": {
                "x": {"field": "n", "type": "quantitative", "axis": null},
                "y": {"field": "T", "type": "quantitative", "axis": null},
                "text": {"field": "k"}
              }
            },
            {
              "data": {"name": "labels"},
              "transform": [{"filter": "datum.p == 'd'"}],
              "mark": {"type": "text", "align": "left", "baseline": "middle", "dx": 9, "dy": 4, "fontSize": 8, "color": "black", "text": "B"},
              "encoding": {
                "x": {"field": "n", "type": "quantitative", "axis": null},
                "y": {"field": "T", "type": "quantitative", "axis": null}
              }
            }
          ]
        }
      ]
    }
  ],
  "config": {
    "font": "Liberation Sans",
    "view": {"stroke": "black", "strokeWidth": 1},
    "axis": {
      "grid": false, "domain": false, "tickSize": -5, "tickColor": "black", "tickWidth": 1,
      "labelColor": "black", "labelFont": "Liberation Sans", "labelFontSize": 16,
      "titleFont": "Liberation Sans", "titleFontSize": 14.5, "titleFontWeight": "normal", "titleColor": "black",
      "labelPadding": 9, "titlePadding": 4
    },
    "axisBottom": {"titlePadding": -2},
    "axisTop": {"titleFontSize": 11, "labelPadding": 8, "titlePadding": 6},
    "axisLeft": {"titlePadding": 6},
    "legend": {
      "orient": "top-right", "offset": 5, "padding": 7, "strokeColor": "black", "fillColor": "white",
      "labelFont": "Liberation Sans", "labelFontSize": 15.5, "labelColor": "black", "labelOffset": 10,
      "rowPadding": 3.5, "symbolFillColor": "black", "symbolStrokeWidth": 0
    },
    "title": {"orient": "bottom", "anchor": "middle", "frame": "bounds", "font": "DejaVu Serif", "fontSize": 20, "fontWeight": "normal", "color": "black", "offset": 22},
    "text": {"font": "Liberation Sans"}
  }
}
